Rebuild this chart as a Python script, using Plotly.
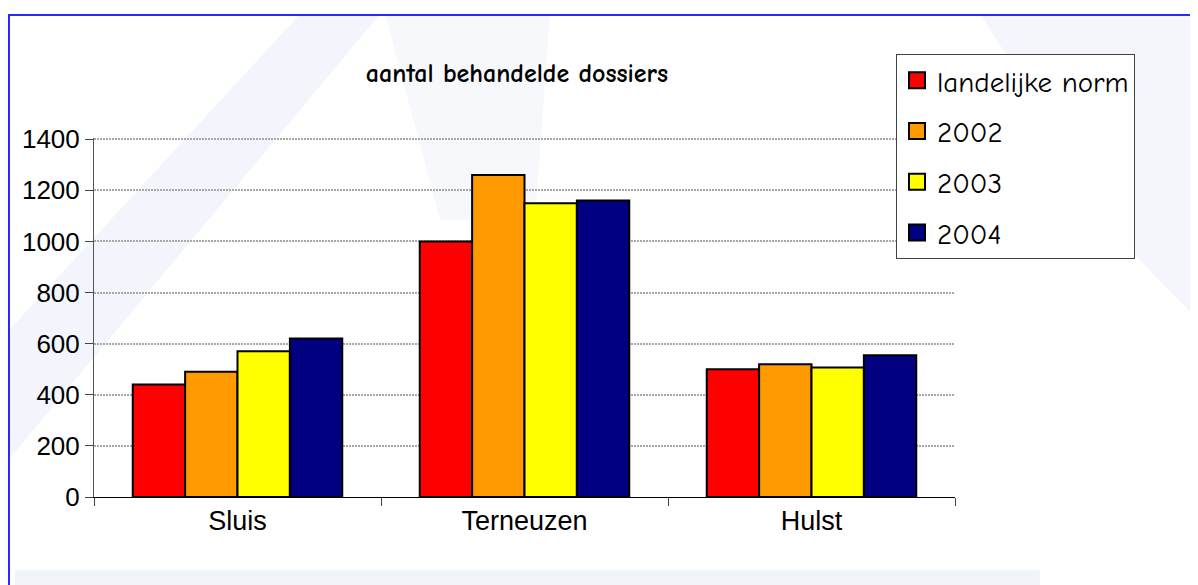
import plotly.graph_objects as go

# Data
gemeenten = ["Sluis", "Terneuzen", "Hulst"]
landelijke_norm = [440, 1000, 500]
jaar_2002 = [490, 1260, 520]
jaar_2003 = [570, 1150, 507]
jaar_2004 = [620, 1160, 555]

series = [
    ("landelijke norm", landelijke_norm, "#FF0000"),
    ("2002", jaar_2002, "#FF9900"),
    ("2003", jaar_2003, "#FFFF00"),
    ("2004", jaar_2004, "#000080"),
]

# the page body has an 8px margin, so work in figure pixels = screen - 8
OFF = 8
W, H = 1198 - OFF, 585 - OFF
L, R, T, B = 94 - OFF, 955 - OFF, 138 - OFF, 497 - OFF  # plot area


def px(x, y):
    # screen pixel -> paper coords (decoration / placement only)
    return (x - OFF - L) / (R - L), (B - (y - OFF)) / (B - T)


fig = go.Figure()

for name, vals, col in series:
    fig.add_trace(go.Bar(
        x=gemeenten, y=vals, name=name, showlegend=False,
        marker=dict(color=col, line=dict(color="#000000", width=2)),
    ))
    # legend entry with a bigger square swatch
    fig.add_trace(go.Scatter(
        x=[None], y=[None], mode="markers", name=name, legendgroup=name,
        marker=dict(symbol="square", size=16, color=col,
                    line=dict(color="#000000", width=2)),
    ))


# faint background watermark shapes
def poly(points, color):
    pts = [px(a, b) for a, b in points]
    path = "M " + " L ".join(f"{a:.4f},{b:.4f}" for a, b in pts) + " Z"
    fig.add_shape(type="path", path=path, xref="paper", yref="paper",
                  fillcolor=color, line=dict(width=0), layer="below")


poly([(0, 470), (0, 340), (300, 14), (380, 14)], "rgba(205,215,240,0.25)")
poly([(385, 14), (550, 14), (535, 220), (440, 220)], "rgba(210,220,240,0.2)")
poly([(980, 14), (1198, 14), (1198, 320), (1130, 250)], "rgba(205,215,238,0.22)")
poly([(15, 570), (1040, 570), (1040, 585), (15, 585)], "rgba(200,215,235,0.25)")

# blue frame
x0, y0 = px(9, 15)
x1, y1 = px(1215, 600)
fig.add_shape(type="rect", xref="paper", yref="paper", x0=x0, y0=y1, x1=x1, y1=y0,
              line=dict(color="#2828FF", width=2), fillcolor="rgba(0,0,0,0)")

lx, ly = px(896, 54)
fig.update_layout(
    width=W, height=H,
    margin=dict(l=L, r=W - R, t=T, b=H - B),
    paper_bgcolor="#FFFFFF", plot_bgcolor="rgba(0,0,0,0)",
    barmode="group", bargap=0.27, bargroupgap=0,
    title=dict(text="<b>aantal behandelde dossiers</b>", x=(517 - OFF) / W,
               xanchor="center", y=1 - (73 - OFF) / H, yanchor="middle",
               font=dict(family="Comic Sans MS, Comic Neue, Lato, sans-serif",
                         size=26, color="#000000")),
    font=dict(family="Liberation Sans, Arial, sans-serif", color="#000000"),
    legend=dict(x=lx, y=ly, xanchor="left", yanchor="top",
                bgcolor="#FFFFFF", bordercolor="#444444", borderwidth=1,
                font=dict(family="Comic Sans MS, Comic Neue, Lato, sans-serif",
                          size=29, color="#000000"),
                tracegroupgap=10, itemwidth=30),
    xaxis=dict(showgrid=False, showline=True, linecolor="#000000", linewidth=1,
               ticks="outside", tickson="boundaries", ticklen=8, tickcolor="#444444",
               tickfont=dict(size=27), fixedrange=True),
    yaxis=dict(range=[0, 1405], tickvals=[0, 200, 400, 600, 800, 1000, 1200, 1400],
               showline=True, linecolor="#555555",
               linewidth=1, ticks="outside", ticklen=8, tickcolor="#444444",
               showgrid=True, gridcolor="#A8A8A8", griddash="2px,1px", gridwidth=2,
               zeroline=False, tickfont=dict(size=26), fixedrange=True),
)

fig.write_html("out.html")
